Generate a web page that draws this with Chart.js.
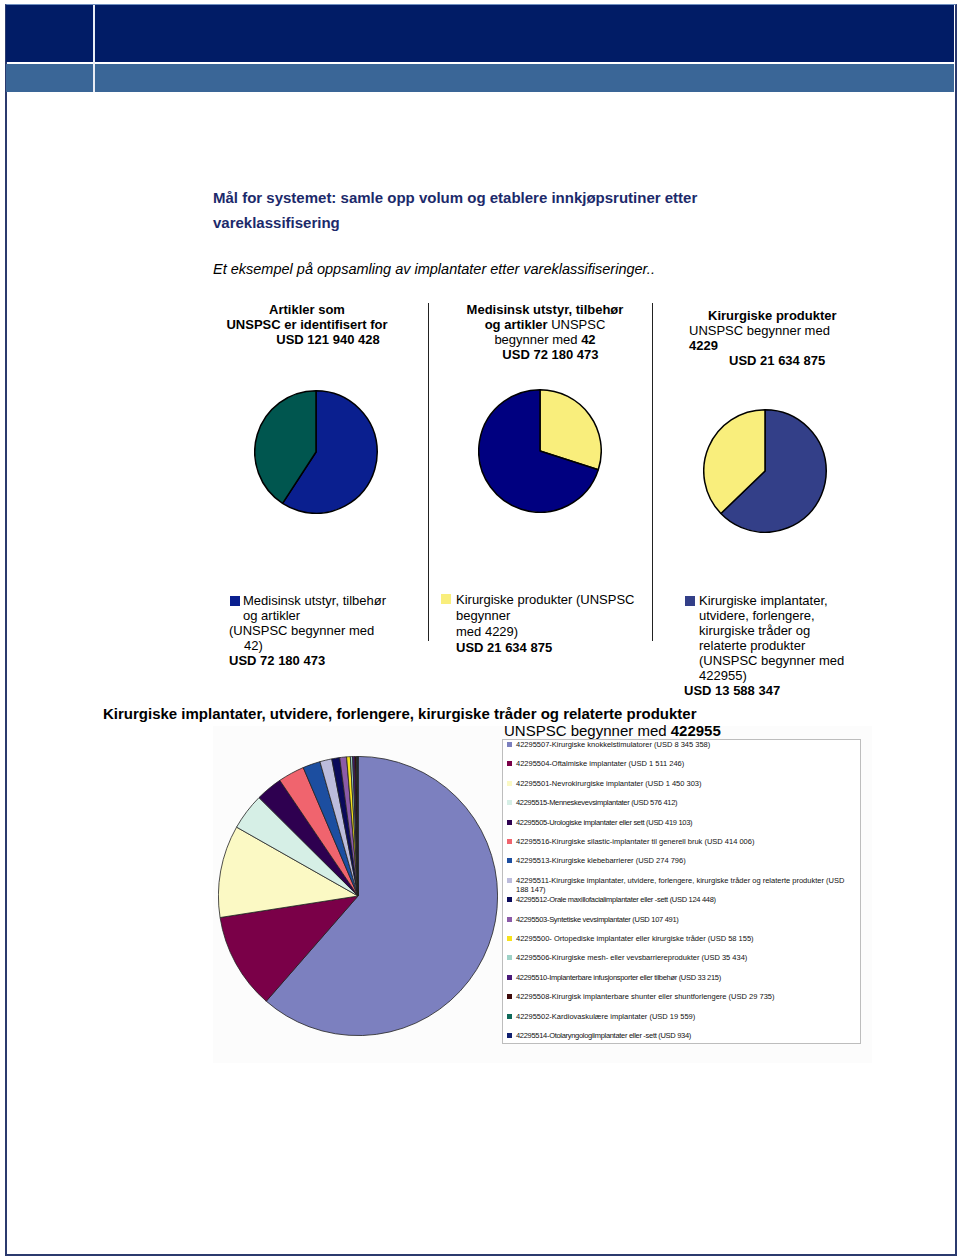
<!DOCTYPE html>
<html>
<head>
<meta charset="utf-8">
<script src="https://cdn.jsdelivr.net/npm/chart.js@4.4.1/dist/chart.umd.min.js"></script>
<style>
  html, body { margin:0; padding:0; background:#fff; }
  body { width:960px; height:1259px; position:relative; overflow:hidden; font-family:"Liberation Sans", Arial, sans-serif; color:#000; }
  .abs { position:absolute; white-space:nowrap; }
  .frame { position:absolute; left:5px; top:4px; width:948px; height:1249px; border:2px solid #2b3a6e; border-top:1px solid #6f8fc0; }
  .band1 { position:absolute; left:6px; top:5px; width:948px; height:57px; background:#011c66; }
  .band2 { position:absolute; left:6px; top:64px; width:948px; height:28px; background:#3a6697; }
  .vline { position:absolute; left:93px; top:5px; width:2px; height:87px; background:#e8ecf4; }
  .title { font-weight:bold; font-size:15px; color:#1c2a6b; }
  .hdr { font-size:13px; line-height:15px; text-align:center; }
  .lg { font-size:13px; line-height:15px; }
  .sq { position:absolute; width:10px; height:10px; }
  .div { position:absolute; width:1px; background:#222; }
  canvas { position:absolute; }
  .bigbg { position:absolute; left:213px; top:726px; width:659px; height:337px; background:#fcfcfc; }
  .legbox { position:absolute; left:502px; top:739px; width:357px; height:303px; border:1px solid #bdbdbd; background:#fff; }
  .li { position:absolute; left:516px; font-size:7.5px; line-height:9px; width:340px; white-space:normal; color:#111; }
  .lsq { position:absolute; left:507px; width:5px; height:5px; }
</style>
</head>
<body>
<div class="frame"></div>
<div class="band1"></div>
<div class="band2"></div>
<div class="vline"></div>

<div class="abs title" style="left:213px;top:189px;">Mål for systemet: samle opp volum og etablere innkjøpsrutiner etter</div>
<div class="abs title" style="left:213px;top:214px;">vareklassifisering</div>
<div class="abs" style="left:213px;top:261px;font-size:14.5px;font-style:italic;">Et eksempel på oppsamling av implantater etter vareklassifiseringer..</div>

<div class="abs hdr" style="left:207px;top:302px;width:200px;"><b>Artikler som<br>UNSPSC er identifisert for<br><span style="padding-left:42px">USD 121 940 428</span></b></div>
<div class="abs hdr" style="left:445px;top:302px;width:200px;"><b>Medisinsk utstyr, tilbehør<br>og artikler</b> UNSPSC<br>begynner med <b>42</b><br><b>&nbsp;&nbsp;&nbsp;USD 72 180 473</b></div>
<div class="abs lg" style="left:689px;top:308px;"><b style="padding-left:19px">Kirurgiske produkter</b><br>UNSPSC begynner med<br><b>4229</b><br><b style="padding-left:40px">USD 21 634 875</b></div>

<div class="div" style="left:428px;top:303px;height:338px;"></div>
<div class="div" style="left:652px;top:303px;height:338px;"></div>

<canvas id="p1" width="124" height="124" style="left:254px;top:390px;"></canvas>
<canvas id="p2" width="124" height="124" style="left:478px;top:389px;"></canvas>
<canvas id="p3" width="124" height="124" style="left:703px;top:409px;"></canvas>

<div class="sq" style="left:230px;top:596px;background:#0a1f8f;"></div>
<div class="abs lg" style="left:229px;top:593px;"><span style="padding-left:14px">Medisinsk utstyr, tilbehør</span><br><span style="padding-left:14px">og artikler</span><br>(UNSPSC begynner med<br><span style="padding-left:15px">42)</span><br><b>USD 72 180 473</b></div>
<div class="sq" style="left:441px;top:594px;background:#f9ee7c;"></div>
<div class="abs lg" style="left:456px;top:592px;line-height:16px;">Kirurgiske produkter (UNSPSC<br>begynner<br>med 4229)<br><b>USD 21 634 875</b></div>
<div class="sq" style="left:685px;top:596px;background:#333f88;"></div>
<div class="abs lg" style="left:684px;top:593px;"><span style="padding-left:15px">Kirurgiske implantater,</span><br><span style="padding-left:15px">utvidere, forlengere,</span><br><span style="padding-left:15px">kirurgiske tråder og</span><br><span style="padding-left:15px">relaterte produkter</span><br><span style="padding-left:15px">(UNSPSC begynner med</span><br><span style="padding-left:15px">422955)</span><br><b>USD 13 588 347</b></div>

<div class="bigbg"></div>
<div class="abs" style="left:103px;top:705px;font-size:15px;font-weight:bold;">Kirurgiske implantater, utvidere, forlengere, kirurgiske tråder og relaterte produkter</div>
<div class="abs" style="left:504px;top:722px;font-size:15px;">UNSPSC begynner med <b>422955</b></div>

<canvas id="big" width="280" height="280" style="left:218px;top:756px;"></canvas>
<div class="legbox"></div>
<div id="leg"></div>

<script>
// ---- data ----
const overviewLabels = ["Medisinsk utstyr, tilbehør og artikler (UNSPSC 42)", "Øvrige artikler"];
const overviewValues = [72180473, 49759955];

const medLabels = ["Kirurgiske produkter (UNSPSC 4229)", "Øvrig medisinsk utstyr"];
const medValues = [21634875, 50545598];

const surgLabels = ["Kirurgiske implantater m.m. (UNSPSC 422955)", "Øvrige kirurgiske produkter"];
const surgValues = [13588347, 8046528];

const implantLabels = [
  "42295507-Kirurgiske knokkelstimulatorer",
  "42295504-Oftalmiske implantater",
  "42295501-Nevrokirurgiske implantater",
  "42295515-Menneskevevsimplantater",
  "42295505-Urologiske implantater eller sett",
  "42295516-Kirurgiske silastic-implantater til generell bruk",
  "42295513-Kirurgiske klebebarrierer",
  "42295511-Kirurgiske implantater, utvidere, forlengere, kirurgiske tråder og relaterte produkter",
  "42295512-Orale maxillofacialimplantater eller -sett",
  "42295503-Syntetiske vevsimplantater",
  "42295500- Ortopediske implantater eller kirurgiske tråder",
  "42295506-Kirurgiske mesh- eller vevsbarriereprodukter",
  "42295510-Implanterbare infusjonsporter eller tilbehør",
  "42295508-Kirurgisk implanterbare shunter eller shuntforlengere",
  "42295502-Kardiovaskulære implantater",
  "42295514-Otolaryngologiimplantater eller -sett"
];
const implantValues = [8345358, 1511246, 1450303, 576412, 419103, 414006, 274796, 188147, 124448, 107491, 58155, 35434, 33215, 29735, 19559, 934];

// ---- styles ----
const implantColors = ["#7c80bf","#7a0048","#fbf9c4","#d6efe6","#2e0050","#f0646e","#1c4ea0","#bcbcdc","#0a0a5a","#8b5ba8","#f7e21b","#9ed2c7","#4a1a7a","#3f0a0a","#0e6a5a","#102070"];
const condensedItems = [3,4,8,9,12,15];

function fmt(v){ return String(v).replace(/\B(?=(\d{3})+(?!\d))/g, " "); }

function smallPie(id, labels, values, colors){
  new Chart(document.getElementById(id), {
    type:'pie',
    data:{ labels, datasets:[{ data:values, backgroundColor:colors, borderColor:'#000', borderWidth:1.5 }] },
    options:{ responsive:false, animation:false, layout:{padding:0},
      plugins:{ legend:{display:false}, tooltip:{enabled:false} } }
  });
}
smallPie('p1', overviewLabels, overviewValues, ['#0a1f8f','#00564f']);
smallPie('p2', medLabels, medValues, ['#f9ee7c','#000080']);
smallPie('p3', surgLabels, surgValues, ['#333f88','#f9ee7c']);

new Chart(document.getElementById('big'), {
  type:'pie',
  data:{ labels:implantLabels, datasets:[{ data:implantValues, backgroundColor:implantColors, borderColor:'#222', borderWidth:0.8 }] },
  options:{ responsive:false, animation:false, layout:{padding:0},
    plugins:{ legend:{display:false}, tooltip:{enabled:false} } }
});

// HTML legend for big pie
const leg = document.getElementById('leg');
implantLabels.forEach((lab, i) => {
  const y = 745 + i*19.4;
  const sq = document.createElement('div');
  sq.className = 'lsq';
  sq.style.top = (y-3) + 'px';
  sq.style.background = implantColors[i];
  leg.appendChild(sq);
  const t = document.createElement('div');
  t.className = 'li';
  t.style.top = (y-5) + 'px';
  if (condensedItems.includes(i)) t.style.letterSpacing = '-0.3px';
  t.textContent = lab + ' (USD ' + fmt(implantValues[i]) + ')';
  leg.appendChild(t);
});
</script>
</body>
</html>
